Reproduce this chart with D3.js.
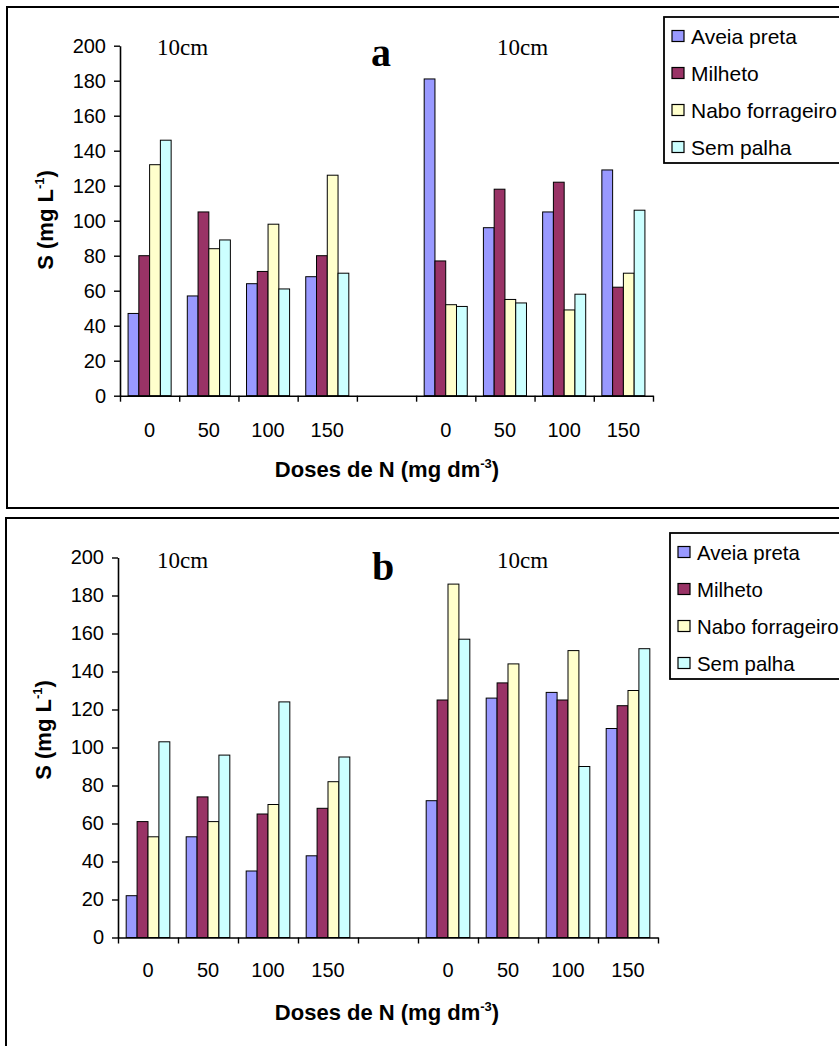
<!DOCTYPE html>
<html>
<head>
<meta charset="utf-8">
<script src="https://cdn.jsdelivr.net/npm/d3@7/dist/d3.min.js"></script>
<style>
  body { margin: 0; background: #fff; }
  text { fill: #000; }
</style>
</head>
<body>
<svg id="chart" width="839" height="1046"></svg>
<script>
// Category labels along the x axis (two depth blocks separated by an empty slot)
const categories = ["0", "50", "100", "150", "", "0", "50", "100", "150"];
const seriesNames = ["Aveia preta", "Milheto", "Nabo forrageiro", "Sem palha"];
const seriesColors = ["#9999FF", "#993366", "#FFFFCC", "#CCFFFF"];
const yTicks = [0, 20, 40, 60, 80, 100, 120, 140, 160, 180, 200];

// Panel a: S (mg L-1) per N dose, left block then right block
const aveiaA   = [47, 57, 64, 68, 181, 96, 105, 129];
const milhetoA = [80, 105, 71, 80, 77, 118, 122, 62];
const naboA    = [132, 84, 98, 126, 52, 55, 49, 70];
const semA     = [146, 89, 61, 70, 51, 53, 58, 106];

// Panel b
const aveiaB   = [22, 53, 35, 43, 72, 126, 129, 110];
const milhetoB = [61, 74, 65, 68, 125, 134, 125, 122];
const naboB    = [53, 61, 70, 82, 186, 144, 151, 130];
const semB     = [103, 96, 124, 95, 157, null, 90, 152];

const svg = d3.select("#chart");
const SANS = "Arial, 'Liberation Sans', sans-serif";
const SERIF = "'Times New Roman', 'Liberation Serif', serif";

function drawPanel(cfg) {
  const g = svg.append("g");

  // outer frame (right edge runs past the page)
  g.append("rect")
    .attr("x", cfg.frame[0]).attr("y", cfg.frame[1])
    .attr("width", cfg.frame[2]).attr("height", cfg.frame[3])
    .attr("fill", "none").attr("stroke", "#000").attr("stroke-width", 2);

  const x = d3.scaleBand().domain(d3.range(categories.length))
    .range([cfg.x0, cfg.x1]).paddingInner(0).paddingOuter(0);
  const xs = d3.scaleBand().domain(seriesNames)
    .range([0, x.bandwidth()]).paddingInner(0).paddingOuter(0.75);
  const y = d3.scaleLinear().domain([0, 200]).range([cfg.yBottom, cfg.yTop]);
  const xLin = d3.scaleLinear().domain([0, categories.length]).range([cfg.x0, cfg.x1]);

  // bars
  cfg.series.forEach((vals, s) => {
    const rows = vals.map((v, i) => ({ v, c: i < 4 ? i : i + 1 }))
      .filter(d => d.v !== null);
    g.append("g").selectAll("rect").data(rows).join("rect")
      .attr("x", d => x(d.c) + xs(seriesNames[s]))
      .attr("y", d => y(d.v))
      .attr("width", xs.bandwidth())
      .attr("height", d => y(0) - y(d.v))
      .attr("fill", seriesColors[s])
      .attr("stroke", "#000").attr("stroke-width", 1);
  });

  // y axis
  const yAxis = g.append("g").attr("transform", `translate(${cfg.x0},0)`)
    .call(d3.axisLeft(y).tickValues(yTicks).tickSize(6).tickPadding(8).tickSizeOuter(0));
  yAxis.selectAll("text").style("font-family", SANS)
    .style("font-size", "20px").attr("fill", "#000");

  // x axis: ticks at category boundaries
  const xAxis = g.append("g").attr("transform", `translate(0,${cfg.yBottom})`)
    .call(d3.axisBottom(xLin).tickValues(d3.range(categories.length + 1))
      .tickFormat("").tickSize(6).tickSizeOuter(0));
  [yAxis, xAxis].forEach(a => {
    a.select(".domain").attr("stroke", "#000").attr("stroke-width", 1.6);
    a.selectAll(".tick line").attr("stroke", "#000").attr("stroke-width", 1.4);
  });

  // category labels
  g.append("g").selectAll("text").data(categories).join("text")
    .attr("x", (d, i) => x(i) + x.bandwidth() / 2)
    .attr("y", cfg.labelY)
    .attr("text-anchor", "middle")
    .style("font-family", SANS)
    .style("font-size", "20px")
    .text(d => d);

  // x title
  const xt = g.append("text")
    .attr("x", cfg.xTitle[0]).attr("y", cfg.xTitle[1])
    .attr("text-anchor", "middle")
    .style("font-family", SANS)
    .style("font-size", "22px").style("font-weight", "bold");
  xt.append("tspan").text("Doses de N (mg dm");
  xt.append("tspan").attr("dy", -9).style("font-size", "13px").text("-3");
  xt.append("tspan").attr("dy", 9).text(")");

  // y title
  const yt = g.append("text")
    .attr("transform", `translate(${cfg.yTitle[0]},${cfg.yTitle[1]}) rotate(-90)`)
    .attr("text-anchor", "middle")
    .style("font-family", SANS)
    .style("font-size", "22px").style("font-weight", "bold");
  yt.append("tspan").text("S (mg L");
  yt.append("tspan").attr("dy", -9).style("font-size", "13px").text("-1");
  yt.append("tspan").attr("dy", 9).text(")");

  // depth labels
  cfg.depth.forEach(p => {
    g.append("text").attr("x", p[0]).attr("y", p[1])
      .style("font-family", SERIF)
      .style("font-size", "23px").text("10cm");
  });

  // panel letter
  g.append("text").attr("x", cfg.letter[0]).attr("y", cfg.letter[1])
    .attr("text-anchor", "middle")
    .style("font-family", SERIF)
    .style("font-size", "40px").style("font-weight", "bold")
    .text(cfg.letterText);

  // legend
  const lg = g.append("g").attr("transform", `translate(${cfg.legend[0]},${cfg.legend[1]})`);
  lg.append("rect").attr("x", 0).attr("y", 0).attr("width", 200).attr("height", 146)
    .attr("fill", "#fff").attr("stroke", "#000").attr("stroke-width", 1.8);
  seriesNames.forEach((name, i) => {
    const cy = 19 + i * 37;
    lg.append("rect").attr("x", 8).attr("y", cy - 5.5).attr("width", 12).attr("height", 11)
      .attr("fill", seriesColors[i]).attr("stroke", "#000").attr("stroke-width", 1.2);
    lg.append("text").attr("x", 27).attr("y", cy + 7.5)
      .style("font-family", SANS)
      .style("font-size", cfg.legendFont + "px").text(name);
  });
}

drawPanel({
  frame: [7, 7, 860, 501],
  x0: 120, x1: 653, yBottom: 395.7, yTop: 45.7,
  labelY: 437, xTitle: [387, 477], yTitle: [53, 220],
  depth: [[157, 55], [497, 55]],
  letter: [381, 66], letterText: "a",
  legend: [664, 17], legendFont: 21,
  series: [aveiaA, milhetoA, naboA, semA]
});

drawPanel({
  frame: [6, 518, 860, 560],
  x0: 118, x1: 658, yBottom: 937.5, yTop: 557.5,
  labelY: 977, xTitle: [387, 1020], yTitle: [51, 730],
  depth: [[157, 568], [497, 568]],
  letter: [383, 580], letterText: "b",
  legend: [670, 533], legendFont: 20.4,
  series: [aveiaB, milhetoB, naboB, semB]
});
</script>
</body>
</html>
